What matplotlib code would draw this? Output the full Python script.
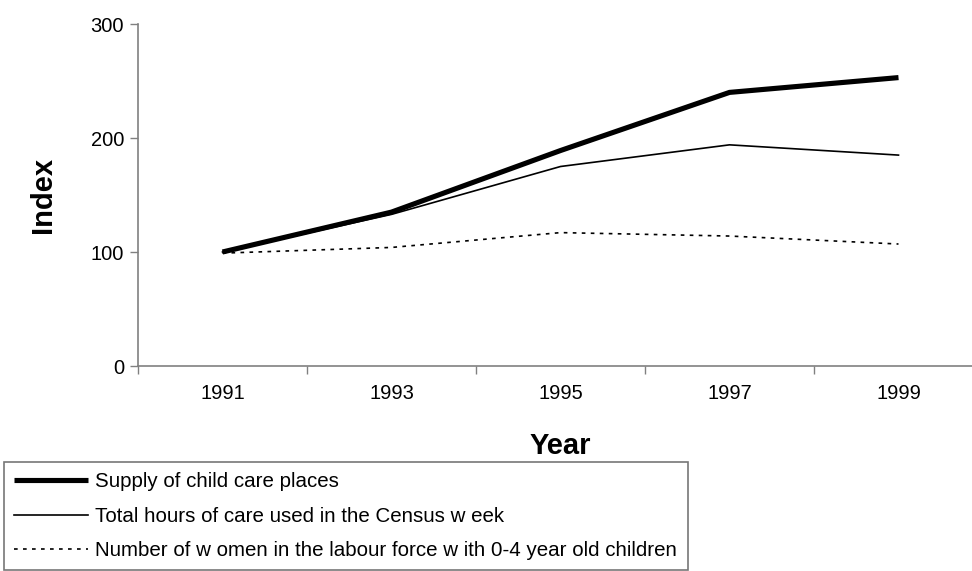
import matplotlib
matplotlib.use("Agg")
from matplotlib import pyplot as plt
from matplotlib.ticker import FixedLocator, NullFormatter

plt.rcParams["font.family"] = ["Liberation Sans", "DejaVu Sans"]

years = ["1991", "1993", "1995", "1997", "1999"]
supply = [100, 135, 189, 240, 253]
hours = [100, 133, 175, 194, 185]
women = [99, 104, 117, 114, 107]

labels = ["Supply of child care places",
          "Total hours of care used in the Census w eek",
          "Number of w omen in the labour force w ith 0-4 year old children"]

W, H = 972, 571
fig = plt.figure(figsize=(W / 100, H / 100), dpi=100)
ax = fig.add_axes([138 / W, 1 - 366 / H, 845 / W, 342 / H])

x = list(range(len(years)))
ax.plot(x, supply, color="k", lw=3.7, solid_capstyle="butt", label=labels[0])
ax.plot(x, hours, color="k", lw=1.2, label=labels[1])
ax.plot(x, women, color="k", lw=1.2, linestyle=(0, (2.2, 3.2)), label=labels[2])

ax.set_xlim(-0.5, len(years) - 0.5)
ax.set_ylim(0, 300)
ax.set_yticks([0, 100, 200, 300])

ax.xaxis.set_major_locator(FixedLocator([i - 0.5 for i in range(len(years) + 1)]))
ax.xaxis.set_major_formatter(NullFormatter())
ax.xaxis.set_minor_locator(FixedLocator(x))
ax.set_xticklabels(years, minor=True)
ax.tick_params(axis="x", which="minor", length=0, pad=13, labelsize=14.5)
ax.tick_params(axis="x", which="major", length=6, width=1, color="#808080", direction="out")
ax.tick_params(axis="y", length=6, width=1, color="#808080", labelsize=14.5, pad=4)

for side in ["top", "right"]:
    ax.spines[side].set_visible(False)
for side in ["left", "bottom"]:
    ax.spines[side].set_color("#808080")
    ax.spines[side].set_linewidth(1.2)

ax.set_ylabel("Index", fontsize=21, fontweight="bold", labelpad=24)
ax.set_xlabel("Year", fontsize=21, fontweight="bold", labelpad=21)

leg = fig.legend(loc="upper left", bbox_to_anchor=(4 / W, 1 - 462 / H),
                 fontsize=14.8, frameon=True, fancybox=False, edgecolor="#555555",
                 handlelength=3.6, handletextpad=0.35, labelspacing=0.75,
                 borderpad=0.5, borderaxespad=0)
leg.get_frame().set_linewidth(1.2)

fig.savefig("out.png", dpi=100)
